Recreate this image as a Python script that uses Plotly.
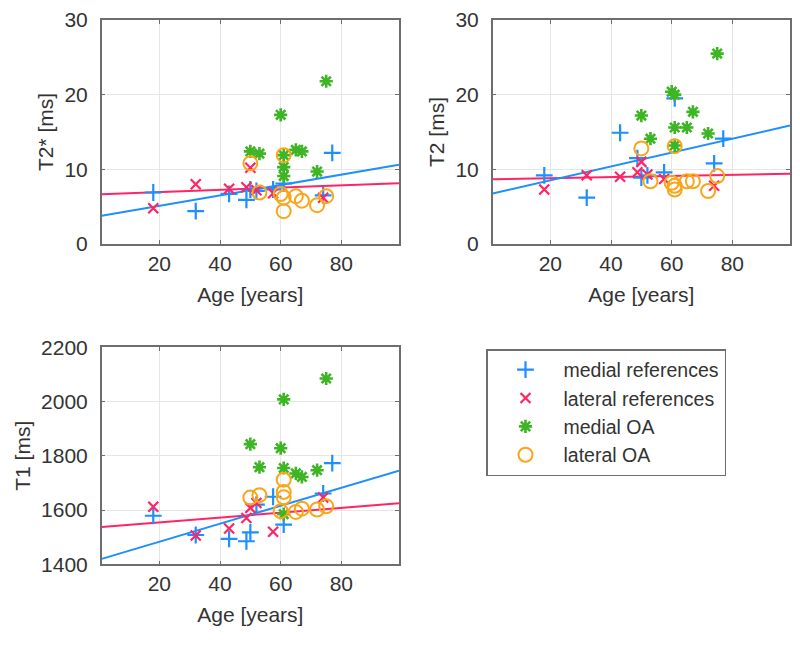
import plotly.graph_objects as go

# ---------------- data ----------------
panel_titles = ["T2* [ms]", "T2 [ms]", "T1 [ms]"]
x_title = "Age [years]"
x_ticks = [20, 40, 60, 80]
y_ticks = [[0, 10, 20, 30], [0, 10, 20, 30], [1400, 1600, 1800, 2000, 2200]]
x_range = [1, 99]
y_ranges = [[0, 30], [0, 30], [1400, 2200]]

age_medial_ref = [18, 32, 43, 48.7, 50, 52, 57.5, 61, 74, 77]
age_lateral_ref = [18, 32, 43, 48.7, 50, 52, 57.5, 74]
age_oa = [50, 53, 60, 61, 61, 61, 65, 67, 72, 75]

medial_ref = [
    [6.9, 4.4, 6.7, 5.9, 7.3, 7.1, 7.3, 8.1, 6.5, 12.2],
    [9.2, 6.2, 14.9, 11.5, 8.9, 9.2, 9.6, 19.5, 10.8, 14.1],
    [1579, 1508, 1494, 1485, 1518, 1620, 1649, 1546, 1661, 1773],
]
lateral_ref = [
    [4.8, 8.0, 7.4, 7.6, 10.2, 7.2, 6.8, 6.2],
    [7.3, 9.2, 9.0, 9.6, 11.0, 9.3, 8.7, 7.8],
    [1612, 1506, 1532, 1571, 1608, 1626, 1520, 1646],
]
medial_oa = [
    [12.4, 12.1, 17.3, 11.9, 10.3, 9.1, 12.6, 12.4, 9.7, 21.8],
    [17.2, 14.1, 20.4, 20.0, 15.6, 13.2, 15.6, 17.7, 14.8, 25.5],
    [1843, 1758, 1828, 2008, 1755, 1585, 1735, 1722, 1747, 2085],
]
lateral_oa = [
    [10.8, 6.9, 6.7, 11.9, 4.4, 6.2, 6.4, 5.8, 5.2, 6.4],
    [12.8, 8.4, 8.2, 13.1, 7.3, 7.8, 8.4, 8.4, 7.1, 9.1],
    [1646, 1655, 1596, 1712, 1667, 1647, 1593, 1605, 1602, 1614],
]
# regression fits (intercept, slope)
fit_medial = [(3.71, 0.0698), (6.68, 0.0928), (1416.7, 3.32)]
fit_lateral = [(6.65, 0.0151), (8.66, 0.0075), (1537.0, 0.885)]

series_names = ["medial references", "lateral references", "medial OA", "lateral OA"]

# ---------------- style ----------------
BLUE = "#1E8FFF"
PINK = "#FF2466"
GREEN = "#3DB524"
ORANGE = "#FBA51A"
TXT = "#333333"
AXC = "#6E6E6E"
GRID = "#E6E6E6"
FONT = "Liberation Sans, Arial, sans-serif"
FS = 21

W, H = 800, 657
OFF = 8  # page body margin offset
# pixel boxes [x0, x1, ytop, ybottom] in page pixels
boxes = [(101.7, 399, 20.0, 244), (492.7, 790, 20.0, 244), (101.7, 399, 347.3, 564.3)]

fig = go.Figure()

for i in range(3):
    xa = "x" if i == 0 else f"x{i+1}"
    ya = "y" if i == 0 else f"y{i+1}"
    show = i == 0
    # regression lines
    for (b0, b1), col in ((fit_lateral[i], PINK), (fit_medial[i], BLUE)):
        fig.add_trace(go.Scatter(
            x=x_range, y=[b0 + b1 * x_range[0], b0 + b1 * x_range[1]],
            mode="lines", line=dict(color=col, width=2),
            xaxis=xa, yaxis=ya, showlegend=False, hoverinfo="skip"))
    fig.add_trace(go.Scatter(
        x=age_medial_ref, y=medial_ref[i], mode="markers", name=series_names[0],
        marker=dict(symbol="cross-thin", size=12, line=dict(color=BLUE, width=2.2), color=BLUE),
        xaxis=xa, yaxis=ya, showlegend=show))
    fig.add_trace(go.Scatter(
        x=age_lateral_ref, y=lateral_ref[i], mode="markers", name=series_names[1],
        marker=dict(symbol="x-thin", size=10, line=dict(color=PINK, width=2.2), color=PINK),
        xaxis=xa, yaxis=ya, showlegend=show))
    fig.add_trace(go.Scatter(
        x=age_oa, y=medial_oa[i], mode="markers", name=series_names[2],
        marker=dict(symbol="asterisk", size=11, line=dict(color=GREEN, width=2.6), color=GREEN),
        xaxis=xa, yaxis=ya, showlegend=show))
    fig.add_trace(go.Scatter(
        x=age_oa, y=lateral_oa[i], mode="markers", name=series_names[3],
        marker=dict(symbol="circle-open", size=14, line=dict(color=ORANGE, width=2), color=ORANGE),
        xaxis=xa, yaxis=ya, showlegend=show))

    x0, x1, yt, yb = [v - OFF for v in boxes[i]]
    xkey = "xaxis" if i == 0 else f"xaxis{i+1}"
    ykey = "yaxis" if i == 0 else f"yaxis{i+1}"
    fig.update_layout(**{
        xkey: dict(
            domain=[x0 / W, x1 / W], anchor=ya, range=x_range, automargin=False,
            tickvals=x_ticks, ticks="inside", ticklen=4, tickcolor=AXC,
            showline=True, linecolor=AXC, linewidth=1.5, mirror="ticks",
            showgrid=True, gridcolor=GRID, gridwidth=1, zeroline=False,
            tickfont=dict(family=FONT, size=FS, color=TXT),
            ticklabelstandoff=0, ticklabeloverflow="allow",
            title=dict(text=x_title, font=dict(family=FONT, size=FS, color=TXT), standoff=13),
        ),
        ykey: dict(
            domain=[1 - yb / H, 1 - yt / H], anchor=xa, range=y_ranges[i], automargin=False,
            tickvals=y_ticks[i], ticks="inside", ticklen=4, tickcolor=AXC,
            showline=True, linecolor=AXC, linewidth=1.5, mirror="ticks",
            showgrid=True, gridcolor=GRID, gridwidth=1, zeroline=False,
            tickfont=dict(family=FONT, size=FS, color=TXT),
            ticklabelstandoff=8, ticklabeloverflow="allow",
            title=dict(text=panel_titles[i], font=dict(family=FONT, size=FS, color=TXT), standoff=5),
        ),
    })

fig.update_layout(
    width=W, height=H,
    margin=dict(l=0, r=0, t=0, b=0),
    paper_bgcolor="white", plot_bgcolor="white",
    font=dict(family=FONT, size=FS, color=TXT),
    showlegend=True,
    legend=dict(
        x=(486 - OFF) / W, y=1 - (349 - OFF) / H, xanchor="left", yanchor="top",
        bordercolor=AXC, borderwidth=1.5, bgcolor="white",
        font=dict(family=FONT, size=19.5, color=TXT),
        itemwidth=66, tracegroupgap=0,
    ),
)

fig.write_html("out.html")
